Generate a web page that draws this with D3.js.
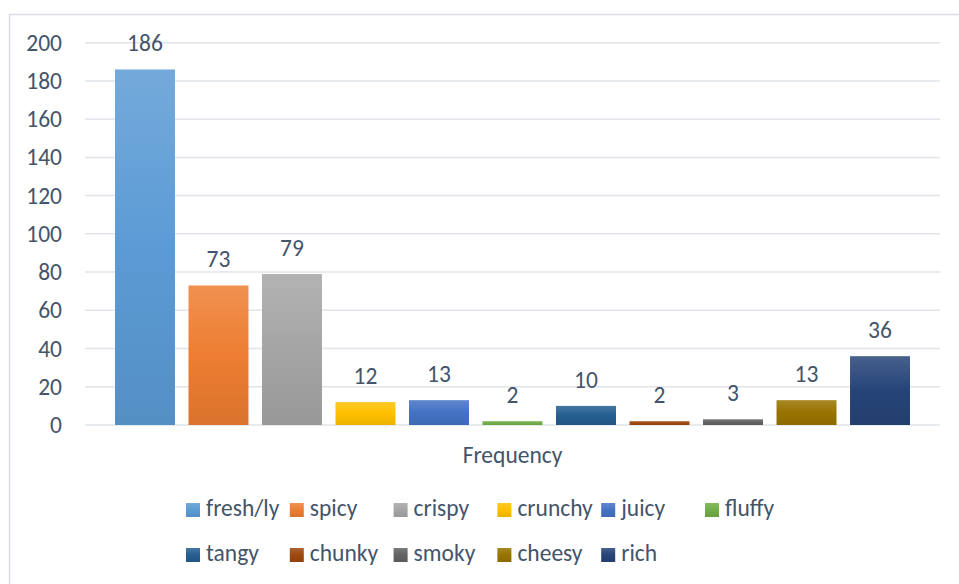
<!DOCTYPE html>
<html>
<head>
<meta charset="utf-8">
<script src="https://cdn.jsdelivr.net/npm/d3@7"></script>
<style>
  html, body { margin: 0; padding: 0; background: #fff; }
  svg { display: block; }
  text { font-family: Carlito, Lato, "Open Sans", sans-serif; fill: #44546A; }
</style>
</head>
<body>
<svg id="chart" width="959" height="584"></svg>
<script>
// Series (one bar per descriptor) and their counts
const series = ["fresh/ly", "spicy", "crispy", "crunchy", "juicy", "fluffy",
                "tangy", "chunky", "smoky", "cheesy", "rich"];
const values = [186, 73, 79, 12, 13, 2, 10, 2, 3, 13, 36];
const colors = ["#5B9BD5", "#ED7D31", "#A5A5A5", "#FFC000", "#4472C4", "#70AD47",
                "#255E91", "#9E480E", "#636363", "#997300", "#264478"];
const yTicks = [0, 20, 40, 60, 80, 100, 120, 140, 160, 180, 200];
const axisTitle = "Frequency";

const W = 959, H = 584;
const FS = 23.5;
const plot = { left: 85, right: 940, top: 42.7, bottom: 425 };
const svg = d3.select("#chart");

// Outer chart frame (top and left edges visible)
svg.append("path")
  .attr("d", `M9.5,${H} V14.5 H${W}`)
  .attr("fill", "none")
  .attr("stroke", "#DADDE2")
  .attr("stroke-width", 1.5);

// Gradients: lighter at the top, base colour in the middle, darker at the bottom
const defs = svg.append("defs");
colors.forEach((c, i) => {
  const g = defs.append("linearGradient")
    .attr("id", "grad" + i)
    .attr("x1", 0).attr("y1", 0).attr("x2", 0).attr("y2", 1);
  g.append("stop").attr("offset", "0%").attr("stop-color", d3.interpolateRgb(c, "#ffffff")(0.15));
  g.append("stop").attr("offset", "50%").attr("stop-color", c);
  g.append("stop").attr("offset", "100%").attr("stop-color", d3.interpolateRgb(c, "#000000")(0.08));
});

const y = d3.scaleLinear().domain([0, 200]).range([plot.bottom, plot.top]);
const x = d3.scaleBand()
  .domain(series)
  .range([plot.left, plot.right])
  .paddingInner(0.184)
  .paddingOuter(0.408);

// Gridlines
svg.append("g")
  .selectAll("line")
  .data(yTicks)
  .join("line")
  .attr("x1", plot.left).attr("x2", plot.right)
  .attr("y1", d => y(d)).attr("y2", d => y(d))
  .attr("stroke", "#E1E4E9")
  .attr("stroke-width", 1.5);

// Y axis labels
const yAxis = svg.append("g")
  .attr("transform", `translate(${plot.left},0)`)
  .call(d3.axisLeft(y).tickValues(yTicks).tickSize(0).tickPadding(23));
yAxis.select(".domain").remove();
yAxis.selectAll("text")
  .attr("font-size", FS)
  .attr("font-family", "Carlito, Lato, 'Open Sans', sans-serif")
  .attr("fill", "#44546A");

// Bars
const data = series.map((s, i) => ({ s, v: values[i], i }));
svg.append("g")
  .selectAll("rect")
  .data(data)
  .join("rect")
  .attr("x", d => x(d.s))
  .attr("width", x.bandwidth())
  .attr("y", d => y(d.v))
  .attr("height", d => y(0) - y(d.v))
  .attr("fill", d => `url(#grad${d.i})`);

// Value labels
svg.append("g")
  .selectAll("text")
  .data(data)
  .join("text")
  .attr("x", d => x(d.s) + x.bandwidth() / 2)
  .attr("y", d => y(d.v) - 18)
  .attr("text-anchor", "middle")
  .attr("font-size", FS)
  .text(d => d.v);

// Axis title
svg.append("text")
  .attr("x", (plot.left + plot.right) / 2)
  .attr("y", 463)
  .attr("text-anchor", "middle")
  .attr("font-size", FS)
  .text(axisTitle);

// Legend: two rows, fixed column pitch
const perRow = 6, colStep = 103.8, legX = 186, rowY = [503, 548];
const leg = svg.append("g")
  .selectAll("g")
  .data(data)
  .join("g")
  .attr("transform", d => `translate(${legX + (d.i % perRow) * colStep},${rowY[Math.floor(d.i / perRow)]})`);
leg.append("rect")
  .attr("width", 14).attr("height", 14)
  .attr("fill", d => `url(#grad${d.i})`);
leg.append("text")
  .attr("x", 20).attr("y", 13)
  .attr("font-size", FS)
  .text(d => d.s);
</script>
</body>
</html>
